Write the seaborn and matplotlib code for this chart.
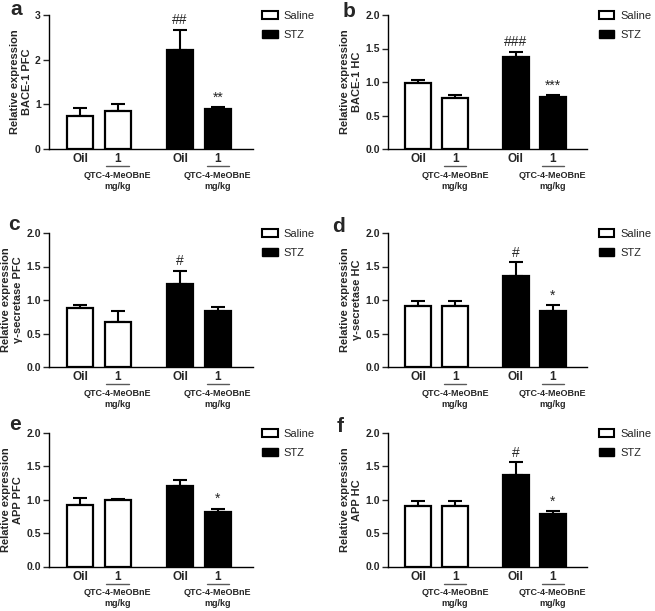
import numpy as np
import pandas as pd
import matplotlib
matplotlib.use("Agg")
import matplotlib.pyplot as plt
import matplotlib.transforms as mtransforms
from matplotlib.patches import Patch
import seaborn as sns

# data
groups = ["Saline", "Saline", "STZ", "STZ"]
doses = ["Oil", "1", "Oil", "1"]

panels = ["a", "b", "c", "d", "e", "f"]
ylabels = ["Relative expression\nBACE-1 PFC", "Relative expression\nBACE-1 HC",
           "Relative expression\n\u03b3-secretase PFC", "Relative expression\n\u03b3-secretase HC",
           "Relative expression\nAPP PFC", "Relative expression\nAPP HC"]

vals_a = [0.75, 0.85, 2.22, 0.90]
err_a = [0.16, 0.16, 0.44, 0.03]
vals_b = [0.98, 0.76, 1.37, 0.77]
err_b = [0.05, 0.05, 0.08, 0.03]
vals_c = [0.88, 0.67, 1.24, 0.83]
err_c = [0.05, 0.16, 0.19, 0.07]
vals_d = [0.91, 0.91, 1.36, 0.84]
err_d = [0.08, 0.08, 0.20, 0.08]
vals_e = [0.925, 0.99, 1.20, 0.815]
err_e = [0.095, 0.02, 0.10, 0.05]
vals_f = [0.90, 0.90, 1.375, 0.78]
err_f = [0.08, 0.08, 0.185, 0.05]

marks_a = ["", "", "##", "**"]
marks_b = ["", "", "###", "***"]
marks_c = ["", "", "#", ""]
marks_d = ["", "", "#", "*"]
marks_e = ["", "", "", "*"]
marks_f = ["", "", "#", "*"]

yticks_a = [0, 1, 2, 3]
yticks_rest = [0.0, 0.5, 1.0, 1.5, 2.0]

all_vals = [vals_a, vals_b, vals_c, vals_d, vals_e, vals_f]
all_errs = [err_a, err_b, err_c, err_d, err_e, err_f]
all_marks = [marks_a, marks_b, marks_c, marks_d, marks_e, marks_f]

sns.set_theme(style="ticks")
plt.rcParams["font.family"] = ["Liberation Sans", "DejaVu Sans"]

W, H = 655, 611
fig = plt.figure(figsize=(W / 100, H / 100), dpi=100)

# layout in pixels
cols = [(49, 204, 1.044), (388, 199, 1.06)]
rows = [(15, 149), (233, 367), (433, 566.5)]
letter_pos = [(10, 15), (343, 17), (8, 230), (332, 232), (9, 430), (337, 432)]

gap = 2.65  # offset of the STZ group on the x axis
grp_idx = {"Saline": 0, "STZ": 1}
pos = [grp_idx[g] * gap + (0 if d == "Oil" else 1) for g, d in zip(groups, doses)]

for i, p in enumerate(panels):
    left, width, leg_x = cols[i % 2]
    top, bottom = rows[i // 2]
    ax = fig.add_axes([left / W, 1 - bottom / H, width / W, (bottom - top) / H])

    df = pd.DataFrame({"pos": pos, "group": groups, "dose": doses, "value": all_vals[i]})
    sns.barplot(data=df, x="pos", y="value", hue="group", native_scale=True, dodge=False,
                palette={"Saline": "white", "STZ": "black"}, saturation=1,
                edgecolor="black", linewidth=1.6, width=0.7, errorbar=None,
                legend=False, ax=ax, zorder=3)

    err = np.array(all_errs[i])
    ax.errorbar(pos, all_vals[i], yerr=[np.zeros(4), err], fmt="none", ecolor="black",
                elinewidth=1.5, capsize=4.8, capthick=1.5, zorder=2)

    for x, v, e, m in zip(pos, all_vals[i], err, all_marks[i]):
        if m:
            ax.annotate(m, (x, v + e), xytext=(0, 2), textcoords="offset points",
                        ha="center", va="bottom", fontsize=10)

    ax.set_xlim(-0.82, 4.58)
    if i == 0:
        ax.set_ylim(0, 3)
        ax.set_yticks(yticks_a)
        ax.set_yticklabels([str(t) for t in yticks_a])
    else:
        ax.set_ylim(0, 2)
        ax.set_yticks(yticks_rest)
        ax.set_yticklabels([f"{t:.1f}" for t in yticks_rest])
    ax.set_xticks(pos)
    ax.set_xticklabels(doses, fontweight="bold", fontsize=8.5)
    ax.tick_params(axis="x", length=0, pad=3)
    ax.tick_params(axis="y", length=4, width=1, pad=2, labelsize=7.5)
    for t in ax.get_yticklabels():
        t.set_fontweight("bold")
    ax.set_xlabel("")
    ax.set_ylabel(ylabels[i], fontweight="bold", fontsize=8, labelpad=2, linespacing=1.25)
    sns.despine(ax=ax)
    for s in ["left", "bottom"]:
        ax.spines[s].set_linewidth(1)
        ax.spines[s].set_color("black")

    # dose annotation under the "1" bars
    line_tr = mtransforms.offset_copy(ax.get_xaxis_transform(), fig=fig, y=-12.5, units="points")
    for x, d in zip(pos, doses):
        if d == "1":
            ax.plot([x - 0.3, x + 0.3], [0, 0], transform=line_tr, color="0.35",
                    lw=1, clip_on=False)
            ax.annotate("QTC-4-MeOBnE\nmg/kg", (x, 0), xycoords=ax.get_xaxis_transform(),
                        xytext=(0, -15.5), textcoords="offset points", ha="center", va="top",
                        fontsize=6.5, fontweight="bold", linespacing=1.35, color="0.15",
                        annotation_clip=False)

    handles = [Patch(facecolor="white", edgecolor="black", linewidth=1.5, label="Saline"),
               Patch(facecolor="black", edgecolor="black", label="STZ")]
    ax.legend(handles=handles, loc="upper left", bbox_to_anchor=(leg_x, 1.03), frameon=False,
              fontsize=8, handlelength=1.4, handleheight=0.8, handletextpad=0.5,
              labelspacing=0.8, borderaxespad=0, borderpad=0)

    lx, ly = letter_pos[i]
    fig.text(lx / W, 1 - ly / H, p, fontsize=15, fontweight="bold", va="baseline", ha="left")

fig.savefig("out.png", dpi=100)
